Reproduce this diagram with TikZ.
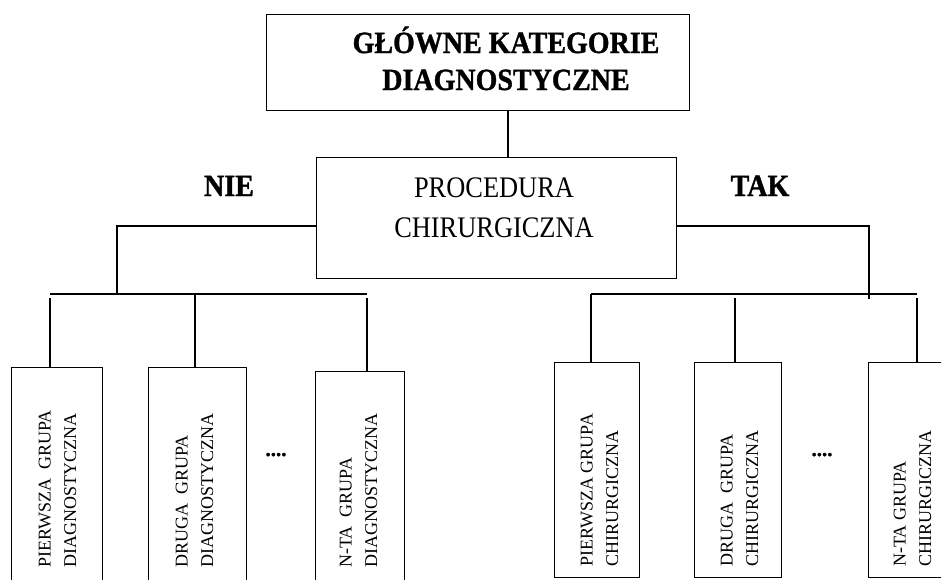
\documentclass[tikz,border=0pt]{standalone}
\usepackage{fontspec}
\setmainfont{Liberation Serif}
\newfontface\heavyface{Liberation Serif Bold}[FakeBold=1.2]
\newcommand{\tallcaps}[1]{\scalebox{1}[1.1]{#1}}
\begin{document}
\begin{tikzpicture}[x=1pt,y=-1pt,
  box/.style={draw, line width=1.3pt, inner sep=0pt, anchor=north west},
  link/.style={line width=1.8pt},
  headtext/.style={font=\fontsize{28}{37}\selectfont\heavyface, align=center, inner sep=0pt, anchor=base},
  proctext/.style={font=\fontsize{26.4}{40}\selectfont, align=center, inner sep=0pt, anchor=base},
  answer/.style={font=\fontsize{28}{34}\selectfont\heavyface, inner sep=0pt, anchor=base},
  grouptext/.style={font=\fontsize{18}{25.5}\selectfont, align=left, rotate=90, anchor=west, inner sep=0pt},
  dots/.style={font=\fontsize{21}{22}\selectfont\heavyface, inner sep=0pt, anchor=base}]
\useasboundingbox (0,0) rectangle (941,579);
\clip (0,0) rectangle (941,579);

% main category box
\node[box, minimum width=423pt, minimum height=96pt] (mdc) at (266,14) {};
\node[headtext] (mdctext) at (506,90) {\tallcaps{GŁÓWNE KATEGORIE}\\\tallcaps{DIAGNOSTYCZNE}};

% surgical procedure decision box
\node[box, minimum width=360pt, minimum height=121pt] (proc) at (316,157) {};
\node[proctext] (proctext) at (494,237) {\scalebox{1}[1.13]{PROCEDURA}\\\scalebox{1}[1.13]{CHIRURGICZNA}};

\node[answer] (nie) at (229,196) {\tallcaps{NIE}};
\node[answer] (tak) at (760,196) {\tallcaps{TAK}};

% diagnostic groups (no surgery)
\node[box, minimum width=91pt,  minimum height=240pt] (l1) at (11,367) {};
\node[box, minimum width=98pt,  minimum height=240pt] (l2) at (148,367) {};
\node[box, minimum width=89pt,  minimum height=240pt] (l3) at (315,371) {};
\node[grouptext] (l1t) at (57.5,568) {PIERWSZA\ \ GRUPA\\DIAGNOSTYCZNA};
\node[grouptext] (l2t) at (194.5,568) {DRUGA\ \ GRUPA\\DIAGNOSTYCZNA};
\node[grouptext] (l3t) at (358.5,568) {N-TA\ \ GRUPA\\DIAGNOSTYCZNA};
\node[dots] (ldots) at (276,456) {....};

% surgical groups
\node[box, minimum width=85pt, minimum height=215pt] (r1) at (554,362) {};
\node[box, minimum width=87pt, minimum height=215pt] (r2) at (694,362) {};
\node[box, minimum width=92pt, minimum height=215pt] (r3) at (868,362) {};
\node[grouptext] (r1t) at (599.5,567) {PIERWSZA GRUPA\\CHIRURGICZNA};
\node[grouptext] (r2t) at (739.5,567) {DRUGA\ \ GRUPA\\CHIRURGICZNA};
\node[grouptext] (r3t) at (912.5,567) {N-TA GRUPA\\CHIRURGICZNA};
\node[dots] (rdots) at (822,456) {....};

% connector points
\coordinate (stem) at (508,0);
\coordinate (branchy) at (0,226);
\coordinate (lbarL) at (50,294);
\coordinate (lbarM) at (117,294);
\coordinate (lbarR) at (367,294);
\coordinate (l1top) at (50,298);
\coordinate (l2top) at (195,294);
\coordinate (l3top) at (367,298);
\coordinate (rbarL) at (591,294);
\coordinate (rbarR) at (917,294);
\coordinate (rdrop) at (869,299);
\coordinate (r2top) at (735,298);
\coordinate (r3top) at (917,298);

% connectors
\draw[link] (stem |- mdc.south) -- (stem |- proc.north);
\draw[link] (proc.west |- branchy) -| (lbarM);
\draw[link] (proc.east |- branchy) -| (rdrop);
\draw[link] (lbarL) -- (lbarR);
\draw[link] (rbarL) -- (rbarR);
\draw[link] (l1top) -- (l1top |- l1.north);
\draw[link] (l2top) -- (l2top |- l2.north);
\draw[link] (l3top) -- (l3top |- l3.north);
\draw[link] (rbarL) -- (rbarL |- r1.north);
\draw[link] (r2top) -- (r2top |- r2.north);
\draw[link] (r3top) -- (r3top |- r3.north);
\end{tikzpicture}
\end{document}
